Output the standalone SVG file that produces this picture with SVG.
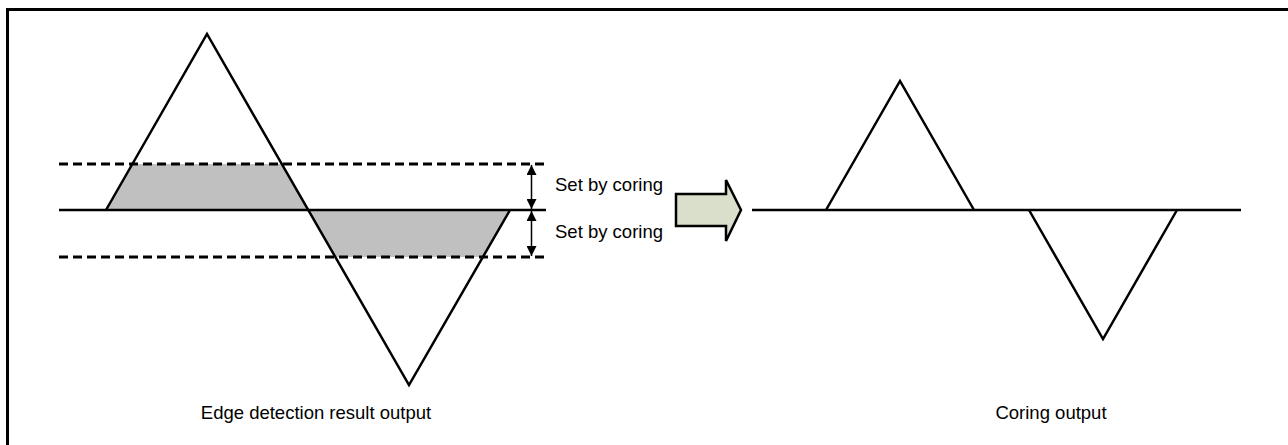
<svg xmlns="http://www.w3.org/2000/svg" width="1288" height="445" viewBox="0 0 1288 445">
<defs>
<style>
.ln{stroke:#000;stroke-width:2.5;fill:none;stroke-linejoin:miter}
.dash{stroke:#000;stroke-width:3;stroke-dasharray:9 5;fill:none}
.gray{fill:#c0c0c0;stroke:none}
.txt{font-family:"Liberation Sans",Arial,sans-serif;font-size:18.5px;fill:#000}
.dim{stroke:#000;stroke-width:1.5;fill:none}
</style>
<marker id="ah" viewBox="0 0 10 10" refX="10" refY="5" markerWidth="10" markerHeight="10" markerUnits="userSpaceOnUse" orient="auto-start-reverse">
<path d="M0,0 L10,5 L0,10 z" fill="#000"/>
</marker>
</defs>
<rect width="1288" height="445" fill="#fff"/>
<g id="frame">
<line x1="7.5" y1="9.5" x2="1288" y2="9.5" stroke="#000" stroke-width="3"/>
<line x1="7.5" y1="8" x2="7.5" y2="445" stroke="#000" stroke-width="3"/>
</g>
<g id="input-signal">
<polygon class="gray" points="132,164 282,164 308,210 106,210"/>
<polygon class="gray" points="308,210 510,210 483,257 335,257"/>
<line class="dash" x1="59" y1="164" x2="547" y2="164"/>
<line class="dash" x1="59" y1="257" x2="547" y2="257"/>
<line class="ln" x1="59" y1="210" x2="546" y2="210"/>
<polyline class="ln" points="106,210 207,34 409,385 510,210"/>
</g>
<g id="connectors">
<line class="dim" x1="531.5" y1="165" x2="531.5" y2="209" marker-start="url(#ah)" marker-end="url(#ah)"/>
<line class="dim" x1="531.5" y1="211" x2="531.5" y2="256" marker-start="url(#ah)" marker-end="url(#ah)"/>
</g>
<g id="labels">
<text class="txt" x="555" y="191">Set by coring</text>
<text class="txt" x="555" y="238">Set by coring</text>
<text class="txt" x="316" y="419" text-anchor="middle">Edge detection result output</text>
<text class="txt" x="1051" y="419" text-anchor="middle">Coring output</text>
</g>
<g id="big-arrow">
<polygon points="676,194 726,194 726,180 741,210 726,241 726,226 676,226" fill="#d9dfca" stroke="#000" stroke-width="2.5" stroke-linejoin="miter"/>
</g>
<g id="output-signal">
<line class="ln" x1="752" y1="210" x2="1241" y2="210"/>
<polyline class="ln" points="826,210 900,81 974,210"/>
<polyline class="ln" points="1029,210 1103,339 1177,210"/>
</g>
</svg>
